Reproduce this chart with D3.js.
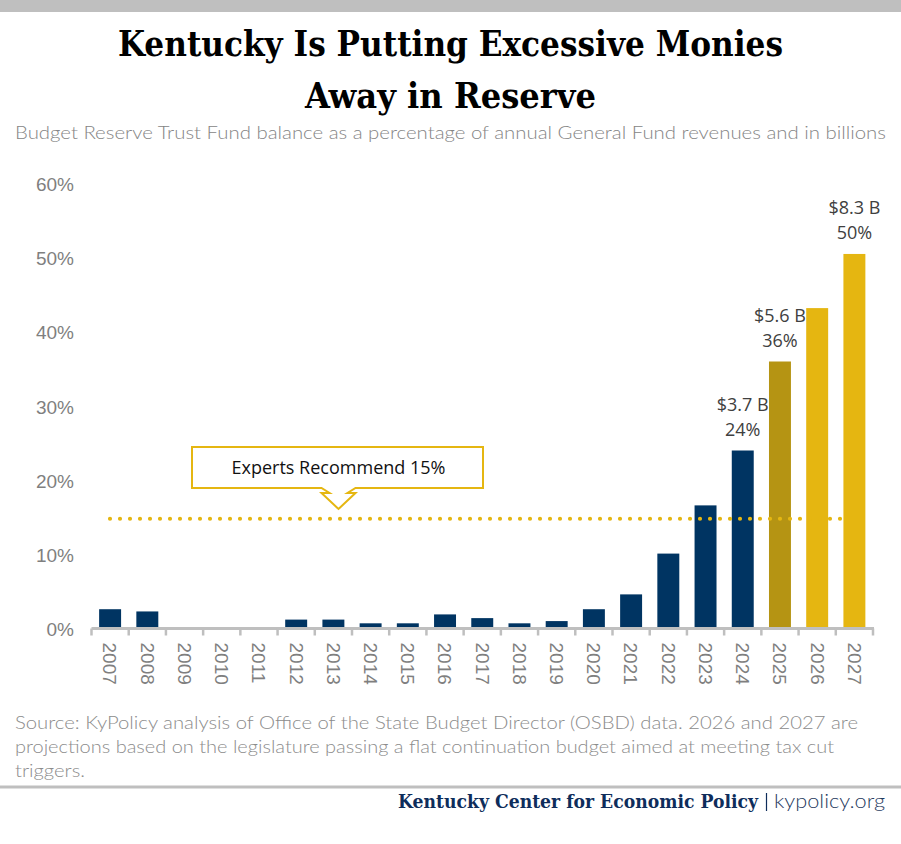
<!DOCTYPE html>
<html><head><meta charset="utf-8">
<script src="https://cdn.jsdelivr.net/npm/d3@7"></script>
<style>body{margin:0;background:#fff}svg{display:block}</style>
</head><body>
<svg id="c" width="901" height="844"></svg>
<script>
const years = ["2007","2008","2009","2010","2011","2012","2013","2014","2015","2016","2017","2018","2019","2020","2021","2022","2023","2024","2025","2026","2027"];
const reservePct = [2.6,2.3,0,0,0,1.2,1.2,0.7,0.7,1.9,1.4,0.7,1.0,2.6,4.6,10.1,16.6,24.0,36.0,43.2,50.5];
const barType = ["actual","actual","actual","actual","actual","actual","actual","actual","actual","actual","actual","actual","actual","actual","actual","actual","actual","actual","enacted","projected","projected"];
const labelYears = ["2024","2025","2027"];
const labelDollars = ["$3.7 B","$5.6 B","$8.3 B"];
const labelPcts = ["24%","36%","50%"];
const yTicks = [0,10,20,30,40,50,60];
const recommended = 15;

const colors = {actual:"#003462", enacted:"#B59413", projected:"#E5B611"};
const svg = d3.select("#c");

svg.append("rect").attr("x",0).attr("y",0).attr("width",901).attr("height",12).attr("fill","#BFBFBF");

const titleFont = "'DejaVu Serif Condensed', 'DejaVu Serif', serif";
svg.append("text").attr("x",450.5).attr("y",56).attr("text-anchor","middle")
  .attr("font-family",titleFont).attr("font-stretch","condensed").attr("font-weight","bold").attr("font-size",36)
  .attr("textLength",665).attr("lengthAdjust","spacingAndGlyphs").attr("fill","#000")
  .text("Kentucky Is Putting Excessive Monies");
svg.append("text").attr("x",450.5).attr("y",108).attr("text-anchor","middle")
  .attr("font-family",titleFont).attr("font-stretch","condensed").attr("font-weight","bold").attr("font-size",36)
  .attr("textLength",291).attr("lengthAdjust","spacingAndGlyphs").attr("fill","#000")
  .text("Away in Reserve");
svg.append("text").attr("x",15).attr("y",139)
  .attr("font-family","Lato").attr("font-weight",300).attr("font-size",17.5)
  .attr("textLength",871).attr("lengthAdjust","spacingAndGlyphs").attr("fill","#858585")
  .text("Budget Reserve Trust Fund balance as a percentage of annual General Fund revenues and in billions");

const x = d3.scaleBand().domain(years).range([91.5,873]).paddingInner(0.41).paddingOuter(0.205);
const y = d3.scaleLinear().domain([0,60]).range([628.5,183.5]);

// y axis labels
const yAxis = d3.axisLeft(y).tickValues(yTicks).tickFormat(d=>d+"%").tickSize(0).tickPadding(0);
const ya = svg.append("g").attr("transform","translate(74,1)").call(yAxis);
ya.select(".domain").remove();
ya.selectAll("text").attr("font-family","Liberation Sans, Arial").attr("font-size",19).attr("fill","#7F7F7F");

// bars
const data = years.map((yr,i)=>({yr, v:reservePct[i], t:barType[i]}));
svg.append("g").selectAll("rect").data(data).join("rect")
  .attr("x",d=>x(d.yr)).attr("width",x.bandwidth())
  .attr("y",d=>y(d.v)).attr("height",d=>y(0)-y(d.v))
  .attr("fill",d=>colors[d.t]);

// x axis
const xAxis = d3.axisBottom(x).tickSize(0).tickPadding(0).tickFormat(d=>d);
const xa = svg.append("g").attr("transform",`translate(0,${y(0)})`).call(xAxis);
xa.select(".domain").remove();
xa.append("line").attr("x1",91.5).attr("x2",874).attr("y1",0).attr("y2",0).attr("stroke","#BFBFBF").attr("stroke-width",3);
const bounds = years.map(yr=>x(yr)-x.step()*x.paddingInner()/2).concat([873]);
xa.selectAll(".bnd").data(bounds).join("line").attr("class","bnd")
  .attr("x1",d=>d).attr("x2",d=>d).attr("y1",0).attr("y2",7).attr("stroke","#BFBFBF").attr("stroke-width",2.5);
xa.selectAll(".tick text")
  .attr("transform","translate(0,14) rotate(90)")
  .attr("text-anchor","start").attr("dy","0.35em").attr("x",0).attr("y",0)
  .attr("font-family","Liberation Sans, Arial").attr("font-size",19).attr("fill","#7F7F7F");

// dotted reference line
svg.append("line").attr("x1",110).attr("x2",846).attr("y1",y(recommended)+1.5).attr("y2",y(recommended)+1.5)
  .attr("stroke",colors.projected).attr("stroke-width",4.2).attr("stroke-linecap","round").attr("stroke-dasharray","0 10");

// callout
const cx = 338.5, cyTip = 509;
const bx0=192, bx1=483, by0=447, by1=488;
const path = `M${bx0},${by0} H${bx1} V${by1} H${cx+17} L${cx+9},${by1+5} L${cx+17},${by1+5} L${cx},${cyTip} L${cx-17},${by1+5} L${cx-9},${by1+5} L${cx-17},${by1} H${bx0} Z`;
svg.append("path").attr("d",path).attr("fill","#fff").attr("stroke",colors.projected).attr("stroke-width",2);
svg.append("text").attr("x",cx).attr("y",474).attr("text-anchor","middle")
  .attr("font-family","Open Sans").attr("font-size",18).attr("fill","#111")
  .attr("textLength",214).attr("lengthAdjust","spacingAndGlyphs")
  .text("Experts Recommend 15%");

// bar labels
const lab = svg.append("g").attr("font-family","Open Sans").attr("font-size",18).attr("fill","#404040").attr("text-anchor","middle");
labelYears.forEach((yr,i)=>{
  const v = reservePct[years.indexOf(yr)];
  const cxl = x(yr)+x.bandwidth()/2;
  lab.append("text").attr("x",cxl).attr("y",y(v)-40).text(labelDollars[i]);
  lab.append("text").attr("x",cxl).attr("y",y(v)-15).text(labelPcts[i]);
});

// source
const src = ["Source: KyPolicy analysis of Office of the State Budget Director (OSBD) data. 2026 and 2027 are",
  "projections based on the legislature passing a flat continuation budget aimed at meeting tax cut",
  "triggers."];
const srcLen = [843,819,70];
src.forEach((s,i)=>{
  svg.append("text").attr("x",15).attr("y",729+i*24)
    .attr("font-family","Lato").attr("font-weight",300).attr("font-size",18)
    .attr("textLength",srcLen[i]).attr("lengthAdjust","spacingAndGlyphs").attr("fill","#8C8C8C").text(s);
});

svg.append("rect").attr("x",0).attr("y",785.5).attr("width",901).attr("height",3).attr("fill","#BFBFBF");

svg.append("text").attr("x",398).attr("y",808)
  .attr("font-family",titleFont).attr("font-stretch","condensed").attr("font-weight","bold").attr("font-size",18)
  .attr("textLength",360).attr("lengthAdjust","spacingAndGlyphs").attr("fill","#0E2D5B")
  .text("Kentucky Center for Economic Policy");
svg.append("line").attr("x1",766.5).attr("x2",766.5).attr("y1",793).attr("y2",811)
  .attr("stroke","#0E2D5B").attr("stroke-width",1.2);
svg.append("text").attr("x",774).attr("y",808)
  .attr("font-family","Lato").attr("font-weight",300).attr("font-size",20)
  .attr("textLength",111).attr("lengthAdjust","spacingAndGlyphs").attr("fill","#1F3A60")
  .text("kypolicy.org");
</script>
</body></html>
